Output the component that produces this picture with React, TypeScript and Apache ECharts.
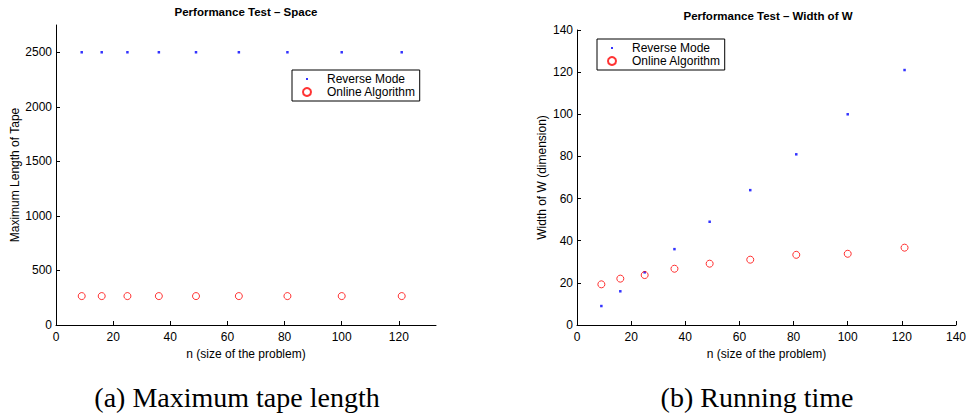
import React, { useEffect, useRef } from "react";
import * as echarts from "echarts";

// ---------- data ----------
const nValues = [9, 16, 25, 36, 49, 64, 81, 100, 121];
const spaceReverse = [2500, 2500, 2500, 2500, 2500, 2500, 2500, 2500, 2500];
const spaceOnline = [265, 265, 265, 265, 265, 265, 265, 265, 265];
const widthReverse = [9, 16, 25, 36, 49, 64, 81, 100, 121];
const widthOnline = [19.3, 22.0, 23.7, 26.7, 29.1, 31.0, 33.3, 33.8, 36.7];

const leftXTicks = [0, 20, 40, 60, 80, 100, 120];
const leftYTicks = [0, 500, 1000, 1500, 2000, 2500];

const SERIES_A = "Reverse Mode";
const SERIES_B = "Online Algorithm";
const X_NAME = "n (size of the problem)";
const LEFT_Y_NAME = "Maximum Length of Tape";
const RIGHT_Y_NAME = "Width of W (dimension)";
const LEFT_TITLE = "Performance Test \u2013 Space";
const RIGHT_TITLE = "Performance Test \u2013 Width of W";
const CAPTION_A = "(a) Maximum tape length";
const CAPTION_B = "(b) Running time";

const SANS = "'Liberation Sans', Arial, Helvetica, sans-serif";
const SERIF = "'Liberation Serif', 'Times New Roman', serif";

const pair = (xs: number[], ys: number[]) => xs.map((x, i) => [x, ys[i]]);
const plain = (v: number) => String(v);

function axisCommon() {
  return {
    type: "value" as const,
    nameLocation: "middle" as const,
    nameTextStyle: { fontSize: 12, color: "#000", fontFamily: SANS },
    axisLine: { show: true, onZero: false, lineStyle: { color: "#000", width: 1 } },
    axisTick: { show: true, inside: true, length: 4, lineStyle: { color: "#000" } },
    axisLabel: { fontSize: 12, color: "#000", fontFamily: SANS, formatter: plain },
    splitLine: { show: false },
  };
}

function legendFor(left: number, top: number) {
  return {
    orient: "vertical" as const,
    left,
    top,
    selectedMode: false,
    itemWidth: 30,
    itemHeight: 8,
    itemGap: 1,
    padding: [3, 4, 3, 10],
    borderColor: "#000",
    borderWidth: 1,
    backgroundColor: "#fff",
    textStyle: { fontSize: 12, color: "#000", fontFamily: SANS },
    data: [
      { name: SERIES_A, icon: "path://M0,0M8,8M3,3h2v2h-2z", itemStyle: { color: "#0000ff" } },
      { name: SERIES_B, icon: "circle" },
    ],
  };
}

export default function App() {
  const ref = useRef<HTMLDivElement>(null);

  useEffect(() => {
    document.body.style.margin = "0";
    if (!ref.current) return;
    const chart = echarts.init(ref.current, undefined, { renderer: "svg" });

    const reverseStyle = {
      type: "scatter" as const,
      name: SERIES_A,
      symbol: "rect",
      symbolSize: 2.5,
      itemStyle: { color: "#0000ff" },
    };
    const onlineStyle = {
      type: "scatter" as const,
      name: SERIES_B,
      symbol: "circle",
      symbolSize: 7,
      itemStyle: { color: "rgba(0,0,0,0)", borderColor: "#ff0000", borderWidth: 1 },
    };

    const titleStyle = { fontSize: 11.5, fontWeight: "bold", color: "#000", fontFamily: SANS };
    const captionStyle = { fontSize: 28, fontWeight: "normal", color: "#000", fontFamily: SERIF };

    chart.setOption({
      animation: false,
      backgroundColor: "#fff",
      title: [
        { text: LEFT_TITLE, left: 246, top: 6, textAlign: "center", padding: 0, textStyle: titleStyle },
        { text: RIGHT_TITLE, left: 768, top: 10, textAlign: "center", padding: 0, textStyle: titleStyle },
        { text: CAPTION_A, left: 237, top: 383, textAlign: "center", padding: 0, textStyle: captionStyle },
        { text: CAPTION_B, left: 757, top: 383, textAlign: "center", padding: 0, textStyle: captionStyle },
      ],
      legend: [legendFor(292, 70), legendFor(597, 39)],
      grid: [
        { left: 56, top: 25, width: 380, height: 300, containLabel: false },
        { left: 577, top: 30, width: 380, height: 295, containLabel: false },
      ],
      xAxis: [
        {
          ...axisCommon(), gridIndex: 0, min: 0, max: 133, interval: 20,
          name: X_NAME, nameGap: 20,
          axisTick: { ...axisCommon().axisTick, customValues: leftXTicks },
          axisLabel: { ...axisCommon().axisLabel, margin: 6, customValues: leftXTicks },
        },
        {
          ...axisCommon(), gridIndex: 1, min: 0, max: 140, interval: 20,
          name: X_NAME, nameGap: 20,
          axisLabel: { ...axisCommon().axisLabel, margin: 6 },
        },
      ],
      yAxis: [
        {
          ...axisCommon(), gridIndex: 0, min: 0, max: 2750, interval: 500,
          name: LEFT_Y_NAME, nameGap: 34,
          axisTick: { ...axisCommon().axisTick, customValues: leftYTicks },
          axisLabel: { ...axisCommon().axisLabel, margin: 4, customValues: leftYTicks },
        },
        {
          ...axisCommon(), gridIndex: 1, min: 0, max: 140, interval: 20,
          name: RIGHT_Y_NAME, nameGap: 29,
          axisLabel: { ...axisCommon().axisLabel, margin: 4 },
        },
      ],
      series: [
        { ...reverseStyle, xAxisIndex: 0, yAxisIndex: 0, data: pair(nValues, spaceReverse) },
        { ...onlineStyle, xAxisIndex: 0, yAxisIndex: 0, data: pair(nValues, spaceOnline) },
        { ...reverseStyle, xAxisIndex: 1, yAxisIndex: 1, data: pair(nValues, widthReverse) },
        { ...onlineStyle, xAxisIndex: 1, yAxisIndex: 1, data: pair(nValues, widthOnline) },
      ],
    });

    return () => chart.dispose();
  }, []);

  return <div ref={ref} style={{ width: 969, height: 414 }} />;
}
